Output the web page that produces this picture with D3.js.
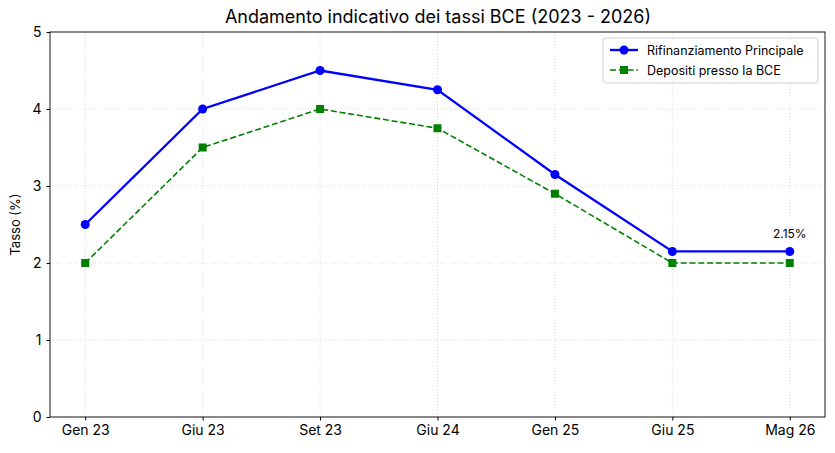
<!DOCTYPE html>
<html>
<head>
<meta charset="utf-8">
<script src="https://cdn.jsdelivr.net/npm/d3@7"></script>
<style>
  body { margin: 0; background: #fff; }
  svg text { font-family: Inter, Roboto, sans-serif; fill: #000; }
</style>
</head>
<body>
<div id="chart"></div>
<script>
// data
var labels = ['Gen 23', 'Giu 23', 'Set 23', 'Giu 24', 'Gen 25', 'Giu 25', 'Mag 26']
var rifinanziamento = [2.5, 4.0, 4.5, 4.25, 3.15, 2.15, 2.15]
var depositi = [2.0, 3.5, 4.0, 3.75, 2.9, 2.0, 2.0]
var yTicks = [0, 1, 2, 3, 4, 5]

var W = 835
var H = 453
var plotLeft = 50
var plotRight = 825
var plotTop = 32
var plotBottom = 417

var svg = d3.select('#chart').append('svg')
  .attr('width', W)
  .attr('height', H)

var n = labels.length
var pad = (n - 1) * 0.05
var x = d3.scaleLinear().domain([-pad, n - 1 + pad]).range([plotLeft, plotRight])
var y = d3.scaleLinear().domain([0, 5]).range([plotBottom, plotTop])

// grid
var grid = svg.append('g')
labels.forEach(function (l, i) {
  grid.append('line')
    .attr('x1', x(i)).attr('x2', x(i))
    .attr('y1', plotTop).attr('y2', plotBottom)
    .attr('stroke', '#b0b0b0').attr('stroke-opacity', 0.6)
    .attr('stroke-width', 0.8).attr('stroke-dasharray', '1,2')
})
yTicks.forEach(function (t) {
  grid.append('line')
    .attr('x1', plotLeft).attr('x2', plotRight)
    .attr('y1', y(t)).attr('y2', y(t))
    .attr('stroke', '#b0b0b0').attr('stroke-opacity', 0.6)
    .attr('stroke-width', 0.8).attr('stroke-dasharray', '1,2')
})

// axes
var xAxis = d3.axisBottom(x).tickValues(d3.range(n)).tickFormat(function (d) { return labels[d] })
  .tickSize(3.5).tickPadding(5)
var gx = svg.append('g').attr('transform', 'translate(0,' + plotBottom + ')').call(xAxis)
gx.select('.domain').remove()
gx.selectAll('text').style('font-size', '14px').attr('fill', '#000')
gx.selectAll('line').attr('stroke', '#000')

var yAxis = d3.axisLeft(y).tickValues(yTicks).tickFormat(d3.format('d'))
  .tickSize(3.5).tickPadding(5)
var gy = svg.append('g').attr('transform', 'translate(' + plotLeft + ',0)').call(yAxis)
gy.select('.domain').remove()
gy.selectAll('text').style('font-size', '14px').attr('fill', '#000')
gy.selectAll('line').attr('stroke', '#000')

svg.append('rect')
  .attr('x', plotLeft).attr('y', plotTop)
  .attr('width', plotRight - plotLeft).attr('height', plotBottom - plotTop)
  .attr('fill', 'none').attr('stroke', '#000').attr('stroke-width', 0.9)

// lines
var line = d3.line().x(function (d, i) { return x(i) }).y(function (d) { return y(d) })

svg.append('path').datum(depositi)
  .attr('d', line).attr('fill', 'none')
  .attr('stroke', 'green').attr('stroke-width', 1.6)
  .attr('stroke-dasharray', '6,2.8')

svg.selectAll('rect.dep').data(depositi).enter().append('rect')
  .attr('class', 'dep')
  .attr('x', function (d, i) { return x(i) - 4 })
  .attr('y', function (d) { return y(d) - 4 })
  .attr('width', 8).attr('height', 8)
  .attr('fill', 'green')

svg.append('path').datum(rifinanziamento)
  .attr('d', line).attr('fill', 'none')
  .attr('stroke', 'blue').attr('stroke-width', 2.3)

svg.selectAll('circle.rif').data(rifinanziamento).enter().append('circle')
  .attr('class', 'rif')
  .attr('cx', function (d, i) { return x(i) })
  .attr('cy', function (d) { return y(d) })
  .attr('r', 4.5)
  .attr('fill', 'blue')

// annotation
svg.append('text')
  .attr('x', x(n - 1)).attr('y', y(rifinanziamento[n - 1]) - 13)
  .attr('text-anchor', 'middle')
  .style('font-size', '12px')
  .text(rifinanziamento[n - 1].toFixed(2) + '%')

// title and y label
svg.append('text')
  .attr('x', (plotLeft + plotRight) / 2 + 0.5).attr('y', 23)
  .attr('text-anchor', 'middle')
  .style('font-size', '18px')
  .text('Andamento indicativo dei tassi BCE (2023 - 2026)')

svg.append('text')
  .attr('transform', 'translate(20,' + (plotTop + plotBottom) / 2 + ') rotate(-90)')
  .attr('text-anchor', 'middle')
  .style('font-size', '13px')
  .text('Tasso (%)')

// legend
var lg = svg.append('g').attr('transform', 'translate(603,38)')
lg.append('rect')
  .attr('width', 215).attr('height', 45).attr('rx', 3)
  .attr('fill', '#fff').attr('fill-opacity', 0.8)
  .attr('stroke', '#d0d0d0').attr('stroke-width', 1)

lg.append('line').attr('x1', 7).attr('x2', 35).attr('y1', 12).attr('y2', 12)
  .attr('stroke', 'blue').attr('stroke-width', 2.3)
lg.append('circle').attr('cx', 21).attr('cy', 12).attr('r', 4.5).attr('fill', 'blue')
lg.append('text').attr('x', 44).attr('y', 16.5).style('font-size', '12.5px').text('Rifinanziamento Principale')

lg.append('line').attr('x1', 7).attr('x2', 35).attr('y1', 32).attr('y2', 32)
  .attr('stroke', 'green').attr('stroke-width', 1.6).attr('stroke-dasharray', '6,2.8')
lg.append('rect').attr('x', 17).attr('y', 28).attr('width', 8).attr('height', 8).attr('fill', 'green')
lg.append('text').attr('x', 44).attr('y', 36.5).style('font-size', '12.5px').text('Depositi presso la BCE')
</script>
</body>
</html>
